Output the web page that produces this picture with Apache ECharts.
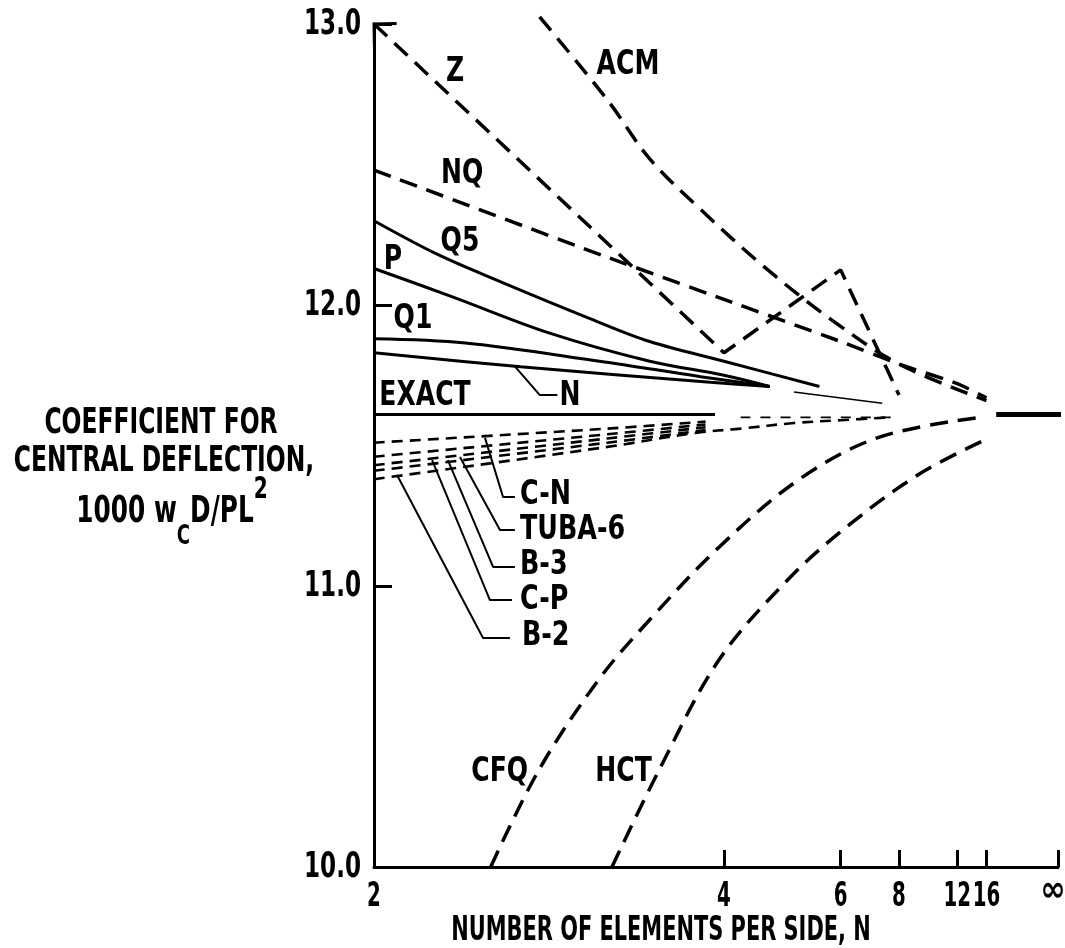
<!DOCTYPE html>
<html><head><meta charset="utf-8">
<script src="https://cdn.jsdelivr.net/npm/echarts@6/dist/echarts.min.js"></script>
<style>html,body{margin:0;padding:0;background:#fff}#c{width:1065px;height:948px}</style>
</head><body><div id="c"></div>
<script>
// ---- axis ticks (x axis is linear in 1/N; the "∞" tick sits at the broken end of the axis)
const xTickN = [2, 4, 6, 8, 12, 16, Infinity];
const xTickLabels = ['2', '4', '6', '8', '12', '16', '∞'];
const yTickValues = [10, 11, 12, 13];
const yTickLabels = ['10.0', '11.0', '12.0', '13.0'];

// ---- curves: N (elements per side) and coefficient 1000 wc D / P L^2
const zN = [2, 4, 6, 8];                 const zV = [13.0, 11.83, 12.125, 11.68];
const acmN = [2.62, 3, 3.3, 3.75, 4.5, 5.75, 8, 16];
const acmV = [13.025, 12.73, 12.52, 12.34, 12.14, 11.95, 11.79, 11.66];
const nqN = [2, 3, 4, 6, 8, 12, 16];     const nqV = [12.48, 12.17, 12.02, 11.87, 11.79, 11.72, 11.67];
const q5N = [2, 2.2, 2.45, 2.9, 3.3, 4, 5.5];
const q5V = [12.30, 12.18, 12.08, 11.95, 11.87, 11.80, 11.71];
const pN = [2, 2.25, 2.67, 3.3, 4, 4.6];  const pV = [12.13, 12.03, 11.90, 11.80, 11.75, 11.71];
const q1N = [2, 2.3, 2.95, 3.75, 4.6];    const q1V = [11.88, 11.865, 11.80, 11.745, 11.71];
const nN = [2, 2.53, 3.85, 4.6];          const nV = [11.83, 11.78, 11.725, 11.71];
const nExtN = [5, 7.3];                   const nExtV = [11.69, 11.65];
const exactValue = 11.61;
const exactSolidN = [2, 3.9];
const exactDashN = [4.2, 7.7];
const exactEndN = [18, Infinity];
const cnN = [2, 3, 3.8];                  const cnV = [11.51, 11.56, 11.585];
const tubaN = [2, 3, 3.8];                const tubaV = [11.46, 11.54, 11.575];
const b3N = [2, 3, 3.8];                  const b3V = [11.43, 11.525, 11.565];
const cpN = [2, 3, 3.8];                  const cpV = [11.41, 11.51, 11.555];
const b2N = [2, 3, 3.7, 4.2, 5, 6, 7.6];  const b2V = [11.38, 11.495, 11.545, 11.56, 11.58, 11.59, 11.60];
const cfqN = [2.4, 2.62, 2.95, 3.3, 3.95, 5.1, 7.2, 15];
const cfqV = [10.0, 10.35, 10.67, 10.88, 11.14, 11.38, 11.53, 11.60];
const hctN = [3.03, 3.38, 3.95, 4.93, 6.25, 9.1, 15.7];
const hctV = [10.0, 10.35, 10.74, 11.03, 11.22, 11.40, 11.52];

// ---- curve labels (anchor in data units)
const labelText = ['Z', 'ACM', 'NQ', 'Q5', 'P', 'Q1', 'EXACT', 'N', 'CFQ', 'HCT'];
const labelN    = [2.262, 3.139, 2.288, 2.28, 2.056, 2.118, 2.157, 2.778, 2.438, 3.108];
const labelV    = [12.829, 12.851, 12.463, 12.224, 12.16, 11.947, 11.673, 11.676, 10.338, 10.338];
const sideText = ['C-N', 'TUBA-6', 'B-3', 'C-P', 'B-2'];
const sideN    = [2.527, 2.527, 2.527, 2.527, 2.536];
const sideV    = [11.324, 11.199, 11.075, 10.947, 10.819];
// leader lines
const leaderN = [[2.377, 2.452, 2.504], [2.28, 2.439, 2.504], [2.236, 2.41, 2.504], [2.181, 2.397, 2.491], [2.068, 2.369, 2.482], [2.50, 2.62, 2.71]];
const leaderV = [[11.527, 11.317, 11.317], [11.459, 11.199, 11.199], [11.448, 11.068, 11.068], [11.448, 10.95, 10.95], [11.395, 10.815, 10.815], [11.785, 11.68, 11.68]];
const yTitleLines = ['COEFFICIENT FOR', 'CENTRAL DEFLECTION,'];
const xTitle = 'NUMBER OF ELEMENTS PER SIDE, N';

const X_END = 0.0114;
const FONT = "'DejaVu Sans', sans-serif";
const inv = n => (n === Infinity ? 0 : 1 / n);
const pts = (ns, vs) => ns.map((n, i) => [inv(n), vs[i]]);
const tickPos = xTickN.map(n => (n === Infinity ? X_END : 1 / n));

function curve(name, ns, vs, kind, extra) {
  const styles = {
    solid: { type: 'solid', width: 3 },
    dash: { type: [18, 10], width: 3.5 },
    small: { type: [11, 7], width: 2.6 },
    thin: { type: 'solid', width: 1.5 },
    thinDash: { type: [10, 10], width: 1.6 },
    thick: { type: 'solid', width: 5 }
  };
  return Object.assign({
    name, type: 'line', data: pts(ns, vs), showSymbol: false, symbol: 'none',
    smooth: 0.35, silent: true,
    lineStyle: Object.assign({ color: '#000', cap: 'butt' }, styles[kind])
  }, extra || {});
}

const series = [
  Object.assign(curve('Z', zN, zV, 'dash', { smooth: false, showSymbol: true }), {
    data: pts(zN, zV).map((p, i) => i === 0 ? {
      value: p, symbol: 'path://M0,0 M20,20 M2,18 L10,10 L18,18', symbolSize: 40, symbolRotate: 46,
      itemStyle: { color: 'rgba(0,0,0,0)', borderColor: '#000', borderWidth: 3 }
    } : { value: p, symbol: 'none' })
  }),
  curve('ACM', acmN, acmV, 'dash', { clip: false }),
  curve('NQ', nqN, nqV, 'dash', { smooth: 0.2 }),
  curve('Q5', q5N, q5V, 'solid'),
  curve('P', pN, pV, 'solid'),
  curve('Q1', q1N, q1V, 'solid'),
  curve('N', nN, nV, 'solid'),
  curve('N ext', nExtN, nExtV, 'thin'),
  curve('EXACT', exactSolidN, exactSolidN.map(() => exactValue), 'solid'),
  curve('EXACT ext', exactDashN, exactDashN.map(() => exactValue - 0.01), 'thinDash'),
  curve('EXACT end', exactEndN, exactEndN.map(() => exactValue), 'thick'),
  curve('C-N', cnN, cnV, 'small'),
  curve('TUBA-6', tubaN, tubaV, 'small'),
  curve('B-3', b3N, b3V, 'small'),
  curve('C-P', cpN, cpV, 'small'),
  curve('B-2', b2N, b2V, 'small'),
  curve('CFQ', cfqN, cfqV, 'dash'),
  curve('HCT', hctN, hctV, 'dash')
];
leaderN.forEach((ns, i) => series.push(Object.assign(curve('leader' + i, ns, leaderV[i], 'thin', { smooth: false }), { lineStyle: { color: '#000', width: 2 } })));

const chart = echarts.init(document.getElementById('c'), null, { renderer: 'canvas' });
chart.setOption({
  backgroundColor: '#fff',
  animation: false,
  grid: { left: 374, right: 7, top: 24, bottom: 81, containLabel: false, outerBoundsMode: 'none' },
  xAxis: {
    type: 'value', inverse: true, min: X_END, max: 0.5,
    axisLine: { show: true, onZero: false, lineStyle: { color: '#000', width: 3 } },
    axisTick: { show: true, inside: true, length: 17, customValues: tickPos, lineStyle: { color: '#000', width: 3 } },
    axisLabel: { show: false },
    splitLine: { show: false }
  },
  yAxis: {
    type: 'value', min: 10, max: 13, interval: 1,
    axisLine: { show: true, onZero: false, lineStyle: { color: '#000', width: 3 } },
    axisTick: { show: true, inside: true, length: 18, lineStyle: { color: '#000', width: 3 } },
    axisLabel: { show: false },
    splitLine: { show: false }
  },
  series
});

// ---- text (condensed lettering), placed through the chart's own coordinate system
const toPx = (x, y) => chart.convertToPixel({ gridIndex: 0 }, [x, y]);
function txt(text, x, y, size, sx, align, extra) {
  return Object.assign({
    type: 'text', x, y, scaleX: sx, scaleY: 1, silent: true, z: 100,
    style: { text, align: align || 'center', verticalAlign: 'middle', fill: '#000', fontFamily: FONT, fontWeight: 'bold', fontSize: size }
  }, extra || {});
}
const g = [];
xTickLabels.forEach((t, i) => {
  const p = toPx(tickPos[i], 10);
  if (t === '∞') g.push(txt(t, p[0] - 5, p[1] + 25, 36, 0.85));
  else g.push(txt(t, p[0], p[1] + 30, 33, 0.6));
});
yTickLabels.forEach((t, i) => {
  const p0 = toPx(0.5, yTickValues[i]);
  g.push(txt(t, p0[0] - 13, p0[1] + 1, 35, 0.66, 'right'));
});
labelText.forEach((t, i) => { const p = toPx(inv(labelN[i]), labelV[i]); g.push(txt(t, p[0], p[1], 33, 0.76)); });
sideText.forEach((t, i) => { const p = toPx(inv(sideN[i]), sideV[i]); g.push(txt(t, p[0], p[1], 33, 0.77, 'left')); });
// y axis title
g.push(txt(yTitleLines[0], 161, 424, 36, 0.65));
g.push(txt(yTitleLines[1], 164, 462, 36, 0.65));
g.push({
  type: 'text', x: 172, y: 512, scaleX: 0.67, silent: true, z: 100,
  style: {
    text: '{m|1000 w}{sub|C}{m|D/PL}{sup|2}', align: 'center', verticalAlign: 'middle', fill: '#000',
    fontFamily: FONT, fontWeight: 'bold', fontSize: 37,
    rich: {
      m: { fontFamily: FONT, fontWeight: 'bold', fontSize: 37, lineHeight: 40, verticalAlign: 'middle', fill: '#000' },
      sub: { fontFamily: FONT, fontWeight: 'bold', fontSize: 27, lineHeight: 27, verticalAlign: 'middle', padding: [49, 0, 0, 0], fill: '#000' },
      sup: { fontFamily: FONT, fontWeight: 'bold', fontSize: 30, lineHeight: 30, verticalAlign: 'middle', padding: [0, 0, 43, 0], fill: '#000' }
    }
  }
});
// x axis title
g.push(txt(xTitle, 661, 931, 34, 0.615));
chart.setOption({ graphic: g });
</script></body></html>
